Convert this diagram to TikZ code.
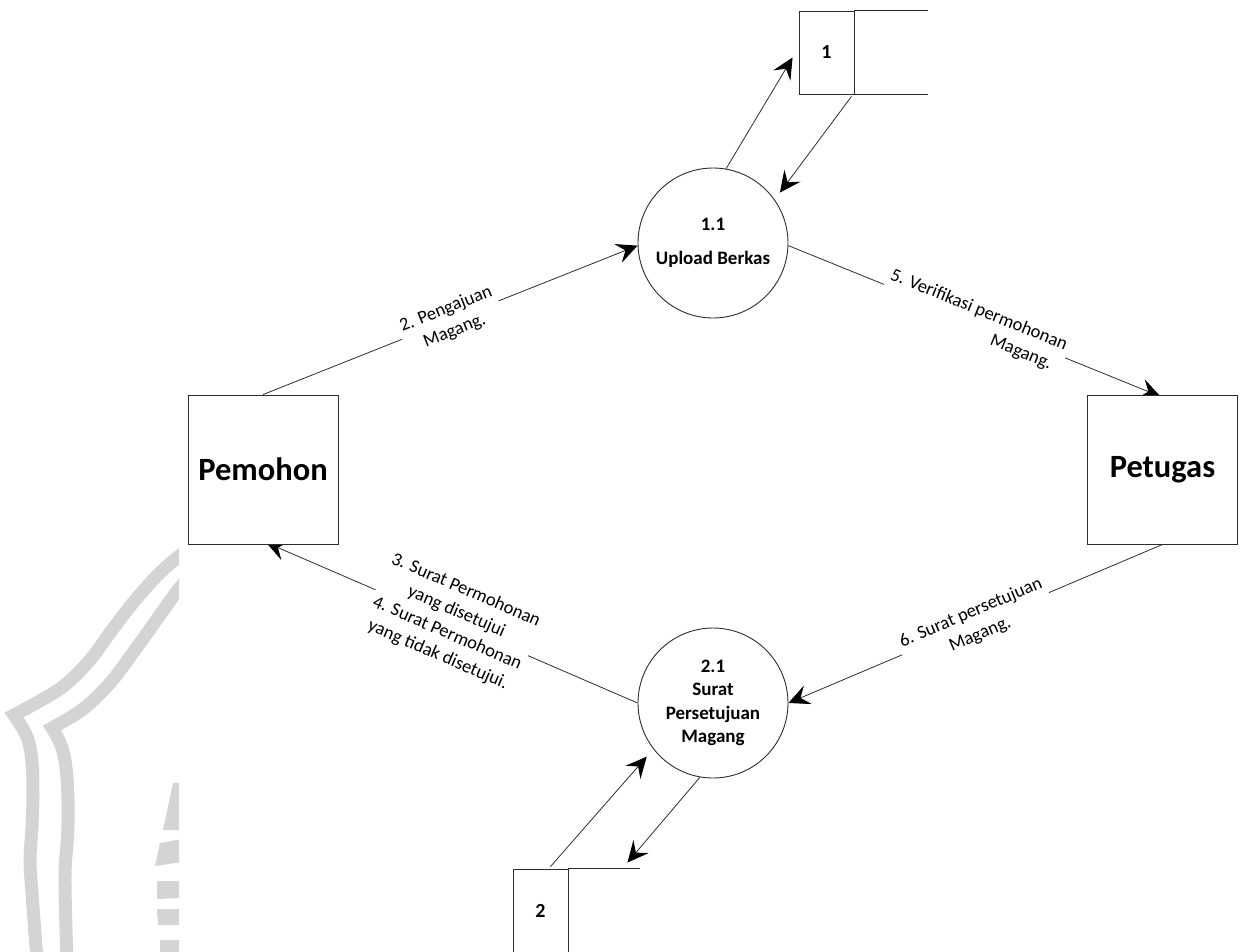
\documentclass[tikz,border=0pt]{standalone}
\usepackage{fontspec}
\setmainfont{Carlito}
\usetikzlibrary{arrows.meta,calc,backgrounds}
\definecolor{wmgray}{RGB}{212,212,212}
\definecolor{edge}{RGB}{45,45,45}

\begin{document}
\begin{tikzpicture}[x=1pt,y=-1pt,
  entity/.style={draw=edge, line width=0.9pt, fill=white, minimum width=150pt,
    minimum height=149pt, inner sep=0pt, font=\fontsize{32.5}{38}\selectfont\bfseries},
  process/.style={draw=edge, line width=0.9pt, fill=white, circle, minimum size=150pt,
    inner sep=0pt, align=center, font=\fontsize{19}{23.5}\selectfont\bfseries},
  storebox/.style={draw=edge, line width=0.9pt, fill=white, minimum width=55pt,
    minimum height=83pt, inner sep=0pt, font=\fontsize{20}{23}\selectfont\bfseries},
  storeline/.style={draw=edge, line width=0.9pt},
  flow/.style={draw=edge, line width=0.8pt,
    -{Stealth[length=21pt,width=20pt,inset=8pt,color=black]}},
  flowlabel/.style={sloped, fill=white, inner sep=3pt, align=center,
    font=\fontsize{18.5}{23.5}\selectfont},
  wm/.style={draw=wmgray, line width=13pt, line join=miter},
]
\useasboundingbox (0,0) rectangle (1248,951);

% faint emblem in the lower left corner
\begin{scope}
  \clip (0,520) rectangle (179,951);
  \draw[wm] plot[smooth, tension=0.6] coordinates {(200,540) (165,568) (137,598) (112,630) (90,660) (65,685) (38,702) (14,715)}
    -- plot[smooth, tension=0.6] coordinates {(14,715) (27,737) (32,762) (33,795) (32,827) (30,860) (32,893) (37,960)};
  \draw[wm] plot[smooth, tension=0.6] coordinates {(210,555) (182,585) (160,615) (135,650) (110,683) (83,709) (52,728)}
    -- plot[smooth, tension=0.6] coordinates {(52,728) (62,748) (67,778) (68,827) (65,877) (67,960)};
  \fill[wmgray] (173,783) -- (182,783) -- (182,830) -- (163,830) -- cycle;
  \fill[wmgray] (160,843) -- (182,839) -- (182,862) -- (155,866) -- cycle;
  \fill[wmgray] (157,881) -- (182,881) -- (182,898) -- (157,899) -- cycle;
  \fill[wmgray] (157,909) -- (182,909) -- (182,925) -- (158,925) -- cycle;
  \fill[wmgray] (160,940) -- (182,940) -- (182,955) -- (160,955) -- cycle;
\end{scope}

% external entities
\node[entity] (pem) at (263,469.5) {Pemohon};
\node[entity] (pet) at (1162.5,469.5) {Petugas};

% processes
\node[process] (c1) at (713,243) {1.1\\[11pt]Upload Berkas};
\node[process] (c2) at (713,703) {2.1\\Surat\\Persetujuan\\Magang};

% data stores
\node[storebox] (s1) at (826.5,52.5) {1};
\draw[storeline] (s1.north east) -- ++(74,0);
\draw[storeline] (s1.south east) -- ++(74,0);
\node[storebox] (s2) at (540.5,910.5) {2};
\draw[storeline] (s2.north east) -- ++(72,0);

% data flows
\begin{scope}[on background layer]
  \draw[flow] (pem.north) -- node[flowlabel] {2. Pengajuan\\Magang.} (c1.182);
  \draw[flow] (c1.358) -- node[flowlabel] {5. Verifikasi permohonan\\\hspace*{110pt}Magang.} ($(pet.north)+(-2,2)$);
  \draw[flow] (pet.south) -- node[flowlabel] {6. Surat persetujuan\\Magang.} (c2.east);
  \draw[flow] (c2.west) -- node[flowlabel] {3. Surat Permohonan\\yang disetujui\\4. Surat Permohonan\\yang tidak disetujui.} ($(pem.south)+(3,-2)$);

  \draw[flow] (c1.80) -- ($(s1.west)+(-6,5)$);
  \draw[flow] ($(s1.south east)+(-3,2)$) -- ($(c1)!1.11!(c1.37)$);
  \draw[flow] ($(s2.north)+(10,-2)$) -- ($(c2)!1.13!(c2.219)$);
  \draw[flow] (c2.260) -- ($(s2.north east)+(59,-6)$);
\end{scope}
\end{tikzpicture}
\end{document}
